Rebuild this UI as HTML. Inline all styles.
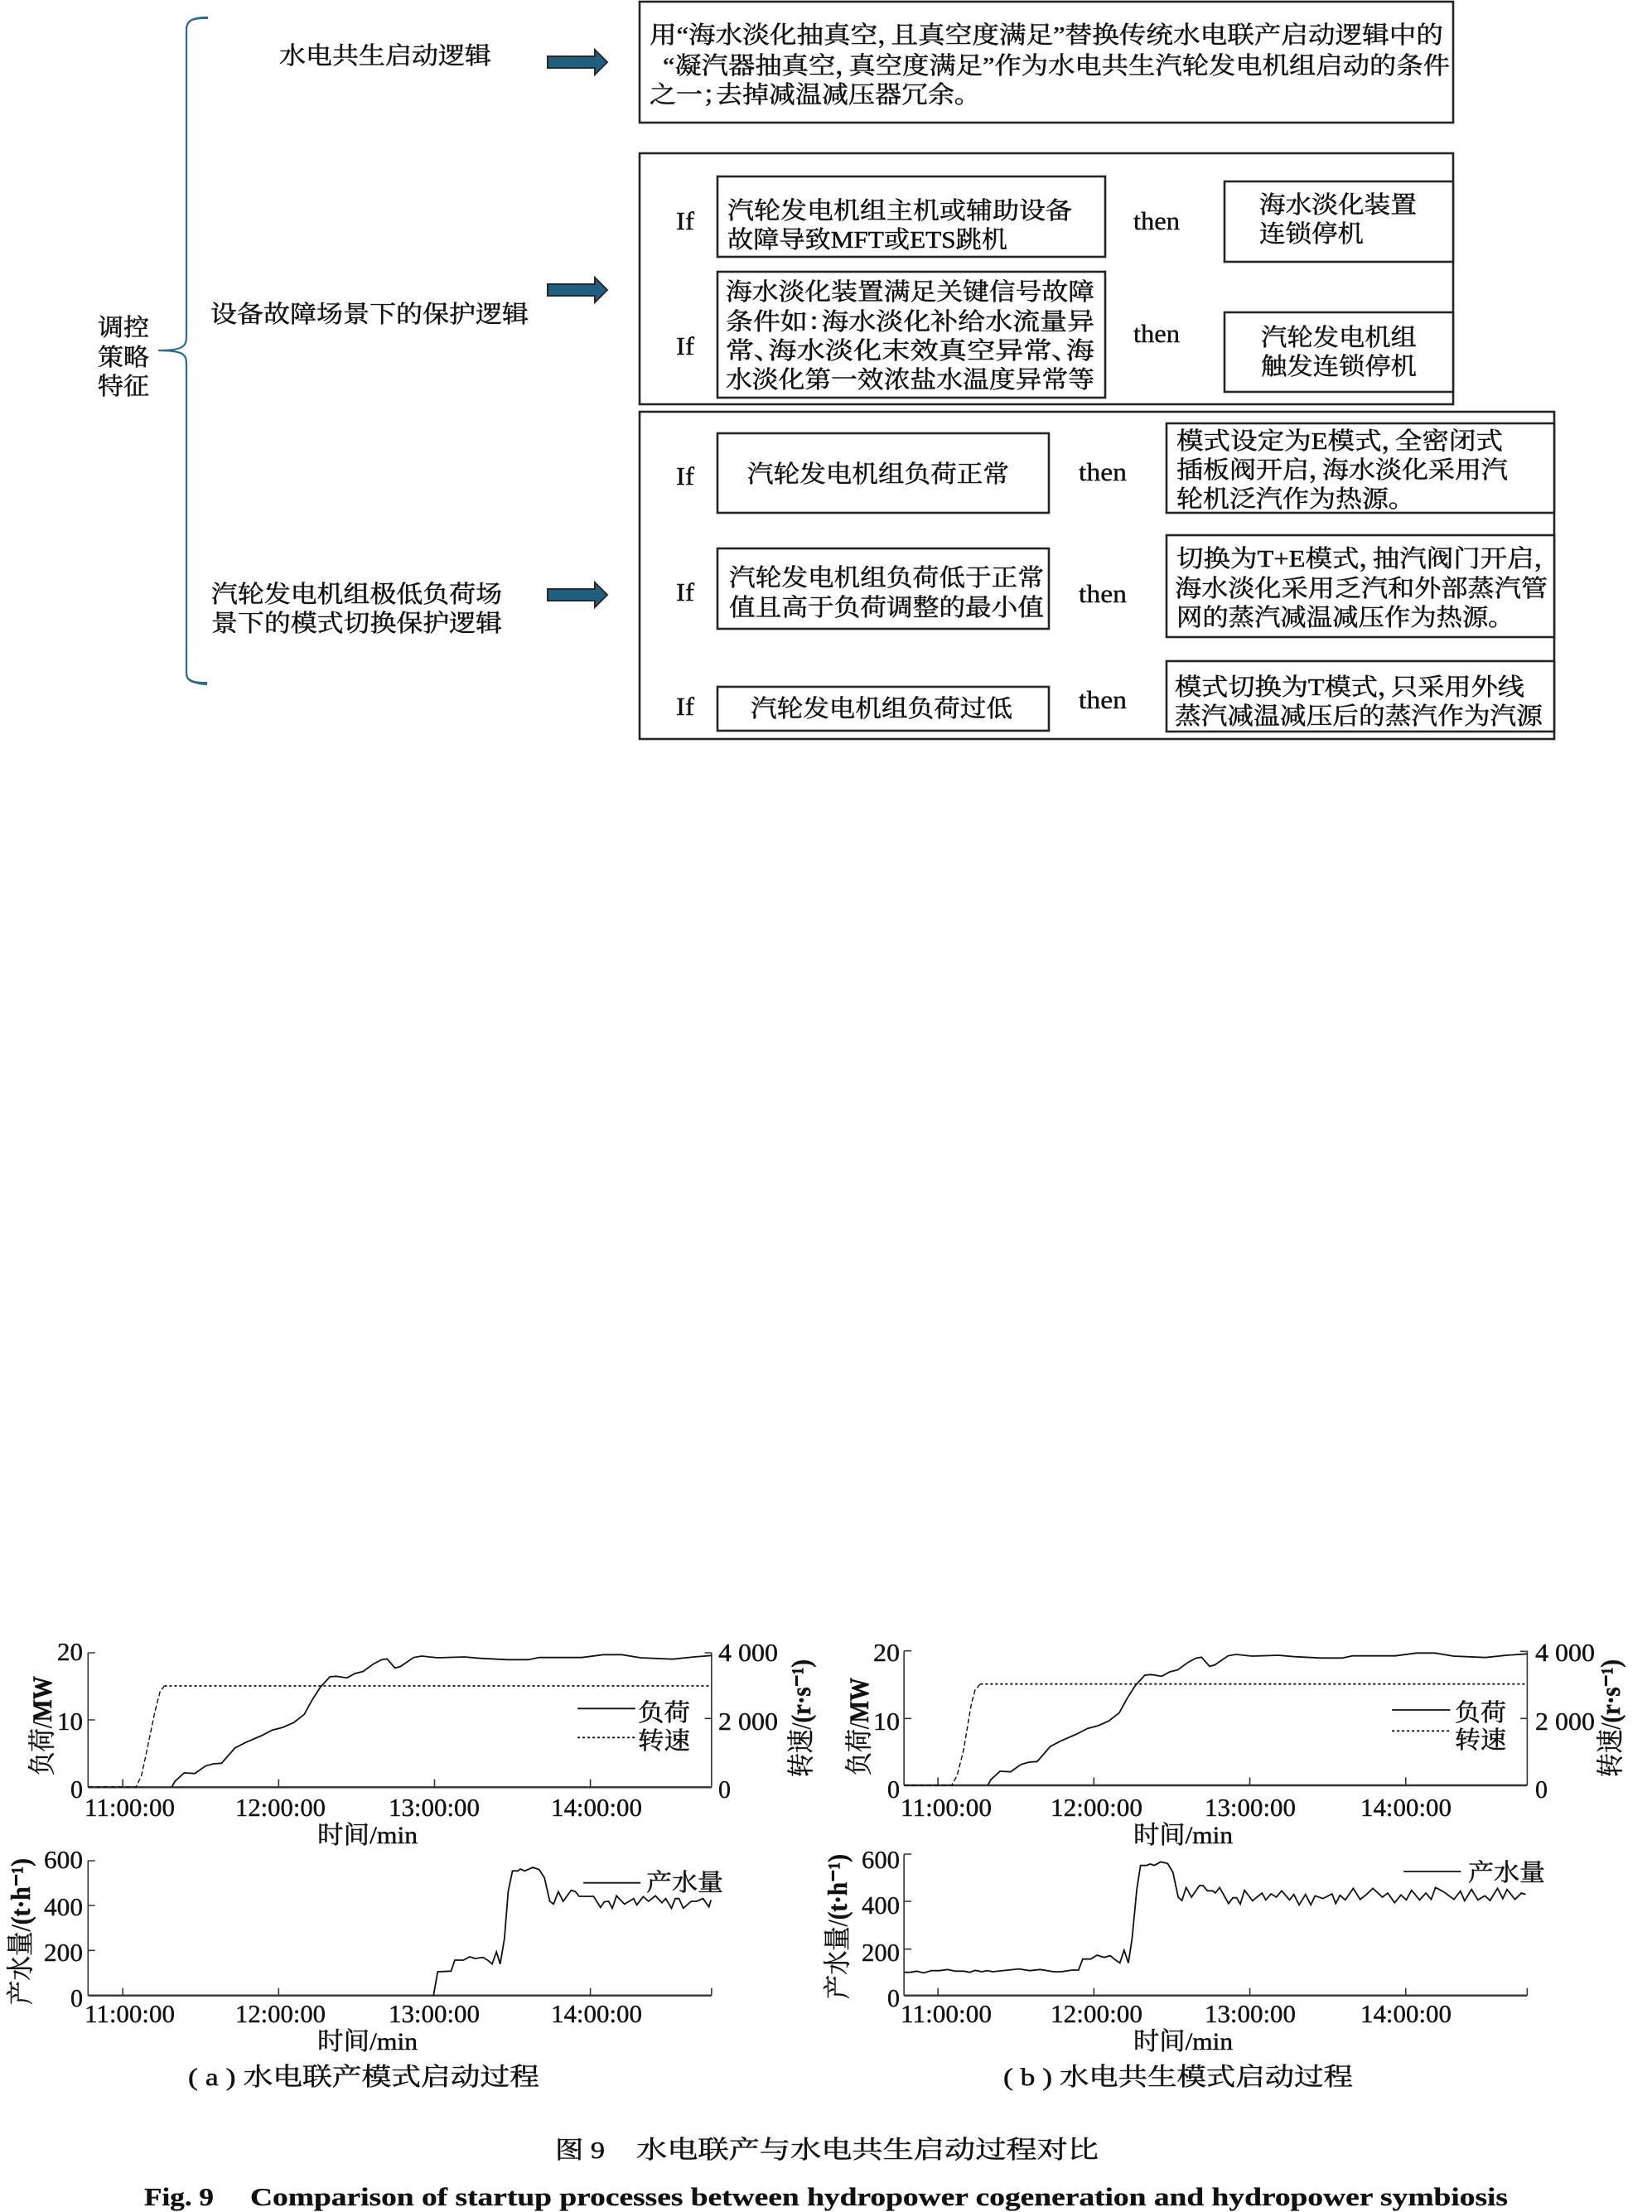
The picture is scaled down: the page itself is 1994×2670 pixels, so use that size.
<!DOCTYPE html>
<html><head><meta charset="utf-8"><title>水电联产与水电共生启动过程对比</title>
<style>
html,body{margin:0;padding:0;background:#fff}
svg{display:block}
text{font-family:"Liberation Serif","Noto Serif CJK SC",serif;fill:#111;stroke:#111;stroke-width:.5;font-size:29px;font-feature-settings:"palt"}
text.n{font-size:31px;stroke-width:.4}
text.m{font-size:30px}
text.y{font-size:33px}
text.c{font-size:31px;stroke-width:.3}
.b{fill:#fff;stroke:#252525;stroke-width:2.6}
.l{fill:none;stroke:#111;stroke-width:1.8;vector-effect:non-scaling-stroke}
.ax{fill:none;stroke:#333;stroke-width:1.6;vector-effect:non-scaling-stroke}
.ax0{fill:none;stroke:#333;stroke-width:2.4;vector-effect:non-scaling-stroke}
.dot{fill:none;stroke:#111;stroke-width:1.8;stroke-dasharray:3 3;vector-effect:non-scaling-stroke}
.dash{fill:none;stroke:#111;stroke-width:1.4;stroke-dasharray:6 3;vector-effect:non-scaling-stroke}
.ar{fill:#1f5f80;stroke:#2a2a2a;stroke-width:2}
</style></head><body>
<svg width="1994" height="2670" viewBox="0 0 1994 2670" xmlns="http://www.w3.org/2000/svg">
<rect width="1994" height="2670" fill="#fff"/>

<!-- brace -->
<path d="M251 21C232 21 225 25 225 36L225 405C225 418 222 423 191 423C222 423 225 428 225 440L225 812C225 822 232 825 250 825" fill="none" stroke="#2c6c8a" stroke-width="2.2"/>
<path d="M251 20C238 20 232 22 228 27C235 23 242 23 251 23Z M191 422.2L207 421.5L207 424.5L191 423.8Z M250 823C238 823 232 822 228 818C232 825 240 827 250 827Z" fill="#2c6c8a"/>

<text x="118" y="405" textLength="62" lengthAdjust="spacingAndGlyphs">调控</text>
<text x="118" y="441" textLength="62" lengthAdjust="spacingAndGlyphs">策略</text>
<text x="118" y="476" textLength="62" lengthAdjust="spacingAndGlyphs">特征</text>

<text x="337" y="77" textLength="256" lengthAdjust="spacingAndGlyphs">水电共生启动逻辑</text>
<text x="254" y="389" textLength="384" lengthAdjust="spacingAndGlyphs">设备故障场景下的保护逻辑</text>
<text x="255" y="727" textLength="351" lengthAdjust="spacingAndGlyphs">汽轮发电机组极低负荷场</text>
<text x="255" y="762" textLength="351" lengthAdjust="spacingAndGlyphs">景下的模式切换保护逻辑</text>

<!-- arrows -->
<path class="ar" d="M661 68H718V60L733 75L718 90V82H661Z"/>
<path class="ar" d="M661 343H718V335L733 350L718 365V357H661Z"/>
<path class="ar" d="M661 711H718V703L733 718L718 733V725H661Z"/>

<!-- box 1 -->
<rect class="b" x="772" y="2" width="982" height="146"/>
<text x="784" y="52" textLength="958" lengthAdjust="spacingAndGlyphs">用“海水淡化抽真空，且真空度满足”替换传统水电联产启动逻辑中的</text>
<text x="800" y="89" textLength="950" lengthAdjust="spacingAndGlyphs">“凝汽器抽真空，真空度满足”作为水电共生汽轮发电机组启动的条件</text>
<text x="784" y="124" textLength="384" lengthAdjust="spacingAndGlyphs">之一；去掉减温减压器冗余。</text>

<!-- box 2 -->
<rect class="b" x="772" y="185" width="982" height="303"/>
<rect class="b" x="866" y="213" width="468" height="97"/>
<rect class="b" x="866" y="328" width="468" height="152"/>
<rect class="b" x="1478" y="219" width="276" height="97"/>
<rect class="b" x="1478" y="377" width="276" height="96"/>
<text class="n" x="816" y="277" textLength="22" lengthAdjust="spacingAndGlyphs">If</text>
<text class="n" x="816" y="428" textLength="22" lengthAdjust="spacingAndGlyphs">If</text>
<text class="n" x="1368" y="277" textLength="56" lengthAdjust="spacingAndGlyphs">then</text>
<text class="n" x="1368" y="413" textLength="56" lengthAdjust="spacingAndGlyphs">then</text>
<text x="878" y="264" textLength="416" lengthAdjust="spacingAndGlyphs">汽轮发电机组主机或辅助设备</text>
<text x="878" y="299" textLength="338" lengthAdjust="spacingAndGlyphs">故障导致MFT或ETS跳机</text>
<text x="876" y="362" textLength="445" lengthAdjust="spacingAndGlyphs">海水淡化装置满足关键信号故障</text>
<text x="876" y="398" textLength="445" lengthAdjust="spacingAndGlyphs">条件如：海水淡化补给水流量异</text>
<text x="876" y="433" textLength="445" lengthAdjust="spacingAndGlyphs">常、海水淡化末效真空异常、海</text>
<text x="876" y="468" textLength="445" lengthAdjust="spacingAndGlyphs">水淡化第一效浓盐水温度异常等</text>
<text x="1520" y="257" textLength="190" lengthAdjust="spacingAndGlyphs">海水淡化装置</text>
<text x="1520" y="292" textLength="126" lengthAdjust="spacingAndGlyphs">连锁停机</text>
<text x="1522" y="417" textLength="188" lengthAdjust="spacingAndGlyphs">汽轮发电机组</text>
<text x="1522" y="452" textLength="188" lengthAdjust="spacingAndGlyphs">触发连锁停机</text>

<!-- box 3 -->
<rect class="b" x="772" y="497" width="1104" height="395"/>
<rect class="b" x="866" y="523" width="400" height="96"/>
<rect class="b" x="866" y="662" width="400" height="97"/>
<rect class="b" x="866" y="829" width="400" height="53"/>
<rect class="b" x="1408" y="511" width="468" height="108"/>
<rect class="b" x="1408" y="646" width="468" height="123"/>
<rect class="b" x="1408" y="798" width="468" height="85"/>
<text class="n" x="816" y="585" textLength="22" lengthAdjust="spacingAndGlyphs">If</text>
<text class="n" x="816" y="725" textLength="22" lengthAdjust="spacingAndGlyphs">If</text>
<text class="n" x="816" y="863" textLength="22" lengthAdjust="spacingAndGlyphs">If</text>
<text class="n" x="1302" y="580" textLength="58" lengthAdjust="spacingAndGlyphs">then</text>
<text class="n" x="1302" y="727" textLength="58" lengthAdjust="spacingAndGlyphs">then</text>
<text class="n" x="1302" y="855" textLength="58" lengthAdjust="spacingAndGlyphs">then</text>
<text x="902" y="582" textLength="316" lengthAdjust="spacingAndGlyphs">汽轮发电机组负荷正常</text>
<text x="880" y="707" textLength="380" lengthAdjust="spacingAndGlyphs">汽轮发电机组负荷低于正常</text>
<text x="880" y="743" textLength="380" lengthAdjust="spacingAndGlyphs">值且高于负荷调整的最小值</text>
<text x="906" y="865" textLength="316" lengthAdjust="spacingAndGlyphs">汽轮发电机组负荷过低</text>
<text x="1420" y="542" textLength="394" lengthAdjust="spacingAndGlyphs">模式设定为E模式，全密闭式</text>
<text x="1420" y="577" textLength="400" lengthAdjust="spacingAndGlyphs">插板阀开启，海水淡化采用汽</text>
<text x="1420" y="612" textLength="272" lengthAdjust="spacingAndGlyphs">轮机泛汽作为热源。</text>
<text x="1420" y="684" textLength="448" lengthAdjust="spacingAndGlyphs">切换为T+E模式，抽汽阀门开启，</text>
<text x="1418" y="720" textLength="450" lengthAdjust="spacingAndGlyphs">海水淡化采用乏汽和外部蒸汽管</text>
<text x="1420" y="755" textLength="392" lengthAdjust="spacingAndGlyphs">网的蒸汽减温减压作为热源。</text>
<text x="1418" y="839" textLength="422" lengthAdjust="spacingAndGlyphs">模式切换为T模式，只采用外线</text>
<text x="1418" y="874" textLength="444" lengthAdjust="spacingAndGlyphs">蒸汽减温减压后的蒸汽作为汽源</text>

<!-- chart a top -->
<g transform="translate(0,1980) scale(.6443,.33333)">
<path class="ax" d="M165 45V532M1333 45V532M165 45H178M165 288H178M1333 45H1320M1333 283H1320M230 532V503M522 532V503M814 532V503M1106 532V503"/>
<path class="ax0" d="M165 532H1333"/>
<path class="dash" d="M165 530H255L265 490L275 400L290 260L300 185L308 165"/>
<path class="dot" d="M308 165H1333"/>
<path class="l" d="M322 530L328 510L345 480L365 482L385 455L400 447L415 445L440 390L460 370L490 345L510 325L530 315L550 298L570 268L585 215L600 170L618 132L630 130L650 136L665 120L680 113L700 85L715 70L725 67L740 100L750 95L775 62L790 57L820 63L870 60L900 65L950 70L990 70L1010 62L1090 62L1130 52L1165 52L1200 63L1260 68L1300 60L1333 55"/>
<path class="l" d="M1082 247H1190"/>
<path class="dot" d="M1082 352H1190"/>
</g>
<text class="n" x="69" y="2004" textLength="31" lengthAdjust="spacingAndGlyphs">20</text>
<text class="n" x="69" y="2088" textLength="31" lengthAdjust="spacingAndGlyphs">10</text>
<text class="n" x="85" y="2170" textLength="15" lengthAdjust="spacingAndGlyphs">0</text>
<text class="n" x="867" y="2005" textLength="72" lengthAdjust="spacingAndGlyphs">4 000</text>
<text class="n" x="867" y="2088" textLength="72" lengthAdjust="spacingAndGlyphs">2 000</text>
<text class="n" x="867" y="2170" textLength="15" lengthAdjust="spacingAndGlyphs">0</text>
<text class="n" x="102" y="2192" textLength="109" lengthAdjust="spacingAndGlyphs">11:00:00</text>
<text class="n" x="284" y="2192" textLength="109" lengthAdjust="spacingAndGlyphs">12:00:00</text>
<text class="n" x="469" y="2192" textLength="110" lengthAdjust="spacingAndGlyphs">13:00:00</text>
<text class="n" x="665" y="2192" textLength="110" lengthAdjust="spacingAndGlyphs">14:00:00</text>
<text class="m" x="383" y="2225" textLength="121" lengthAdjust="spacingAndGlyphs">时间/min</text>
<text x="770" y="2077" textLength="63" lengthAdjust="spacingAndGlyphs">负荷</text>
<text x="770" y="2111" textLength="63" lengthAdjust="spacingAndGlyphs">转速</text>
<text class="y" transform="translate(62,2143) rotate(-90)" textLength="120" lengthAdjust="spacingAndGlyphs">负荷/<tspan font-weight="bold">MW</tspan></text>
<text class="y" transform="translate(978,2145) rotate(-90)" textLength="142" lengthAdjust="spacingAndGlyphs">转速/<tspan font-weight="bold">(r·s⁻¹)</tspan></text>

<!-- chart a bottom -->
<g transform="translate(0,2250) scale(.6443,.33333)">
<path class="ax" d="M165 -12V476M165 -12H178M165 150H178M165 313H178M230 476V449M522 476V449M1106 476V449M1333 476V449"/>
<path class="ax0" d="M165 476H1333"/>
<path class="l" d="M812 476L820 390L845 388L852 348L868 348L880 336L890 342L905 338L915 350L922 362L930 318L937 362L945 270L952 100L960 25L970 25L975 18L983 25L998 12L1010 20L1020 50L1030 135L1037 145L1046 100L1055 135L1070 95L1078 100L1085 117L1112 117L1125 157L1132 137L1140 135L1147 160L1155 115L1170 145L1187 125L1193 148L1205 118L1215 135L1228 115L1240 140L1247 125L1258 160L1265 125L1272 125L1280 160L1295 135L1305 135L1317 125L1328 155L1332 130"/>
<path class="l" d="M1093 68H1200"/>
</g>
<text class="n" x="53" y="2255" textLength="47" lengthAdjust="spacingAndGlyphs">600</text>
<text class="n" x="53" y="2312" textLength="47" lengthAdjust="spacingAndGlyphs">400</text>
<text class="n" x="53" y="2367" textLength="47" lengthAdjust="spacingAndGlyphs">200</text>
<text class="n" x="85" y="2422" textLength="15" lengthAdjust="spacingAndGlyphs">0</text>
<text class="n" x="102" y="2441" textLength="109" lengthAdjust="spacingAndGlyphs">11:00:00</text>
<text class="n" x="284" y="2441" textLength="109" lengthAdjust="spacingAndGlyphs">12:00:00</text>
<text class="n" x="469" y="2441" textLength="110" lengthAdjust="spacingAndGlyphs">13:00:00</text>
<text class="n" x="665" y="2441" textLength="110" lengthAdjust="spacingAndGlyphs">14:00:00</text>
<text class="m" x="383" y="2474" textLength="121" lengthAdjust="spacingAndGlyphs">时间/min</text>
<text x="780" y="2282" textLength="93" lengthAdjust="spacingAndGlyphs">产水量</text>
<text class="y" transform="translate(36,2420) rotate(-90)" textLength="177" lengthAdjust="spacingAndGlyphs">产水量/<tspan font-weight="bold">(t·h⁻¹)</tspan></text>
<text class="m" x="227" y="2517" textLength="424" lengthAdjust="spacingAndGlyphs">( a ) 水电联产模式启动过程</text>

<!-- chart b top -->
<g transform="translate(990,1980) scale(.6402,.33333)">
<path class="ax" d="M158 38V525M1333 38V525M158 38H172M158 283H172M1333 40H1320M1333 283H1320M222 525V496M516 525V496M810 525V496M1104 525V496"/>
<path class="ax0" d="M158 525H1333"/>
<path class="dash" d="M158 524H248L258 490L270 400L285 230L292 180L302 158"/>
<path class="dot" d="M302 158H1333"/>
<path class="l" d="M316 524L322 504L339 474L359 476L379 449L394 441L409 439L434 384L454 364L484 339L504 319L524 309L544 292L564 262L579 209L594 164L612 126L624 124L644 130L659 114L674 107L694 79L709 64L719 61L734 94L744 89L769 56L784 51L814 57L864 54L894 59L944 64L984 64L1004 56L1084 56L1124 46L1159 46L1194 57L1254 62L1294 54L1333 49"/>
<path class="l" d="M1078 252H1188"/>
<path class="dot" d="M1078 328H1188"/>
</g>
<text class="n" x="1054" y="2005" textLength="32" lengthAdjust="spacingAndGlyphs">20</text>
<text class="n" x="1054" y="2088" textLength="32" lengthAdjust="spacingAndGlyphs">10</text>
<text class="n" x="1071" y="2170" textLength="15" lengthAdjust="spacingAndGlyphs">0</text>
<text class="n" x="1853" y="2005" textLength="72" lengthAdjust="spacingAndGlyphs">4 000</text>
<text class="n" x="1853" y="2088" textLength="72" lengthAdjust="spacingAndGlyphs">2 000</text>
<text class="n" x="1853" y="2170" textLength="15" lengthAdjust="spacingAndGlyphs">0</text>
<text class="n" x="1087" y="2192" textLength="110" lengthAdjust="spacingAndGlyphs">11:00:00</text>
<text class="n" x="1268" y="2192" textLength="111" lengthAdjust="spacingAndGlyphs">12:00:00</text>
<text class="n" x="1454" y="2192" textLength="110" lengthAdjust="spacingAndGlyphs">13:00:00</text>
<text class="n" x="1642" y="2192" textLength="110" lengthAdjust="spacingAndGlyphs">14:00:00</text>
<text class="m" x="1368" y="2225" textLength="120" lengthAdjust="spacingAndGlyphs">时间/min</text>
<text x="1756" y="2077" textLength="62" lengthAdjust="spacingAndGlyphs">负荷</text>
<text x="1756" y="2110" textLength="62" lengthAdjust="spacingAndGlyphs">转速</text>
<text class="y" transform="translate(1048,2143) rotate(-90)" textLength="118" lengthAdjust="spacingAndGlyphs">负荷/<tspan font-weight="bold">MW</tspan></text>
<text class="y" transform="translate(1955,2145) rotate(-90)" textLength="142" lengthAdjust="spacingAndGlyphs">转速/<tspan font-weight="bold">(r·s⁻¹)</tspan></text>

<!-- chart b bottom -->
<g transform="translate(990,2250) scale(.6402,.33333)">
<path class="ax" d="M158 -36V476M158 -36H172M158 135H172M158 308H172M222 476V449M516 476V449M810 476V449M1104 476V449M1333 476V449"/>
<path class="ax0" d="M158 476H1333"/>
<path class="l" d="M158 392L170 392L182 388L195 394L210 386L225 386L240 382L255 388L270 388L282 392L292 385L305 390L315 386L325 390L345 386L375 380L395 386L415 382L440 390L455 390L475 384L487 384L495 344L510 344L522 330L535 338L547 332L555 345L565 358L573 312L581 358L588 270L597 90L604 5L615 5L622 0L630 5L642 -8L655 -2L665 30L675 120L682 132L690 85L700 120L715 78L722 78L730 97L740 97L745 105L753 85L770 143L778 122L785 122L792 145L800 95L815 133L833 105L840 130L850 108L860 120L870 97L885 130L893 110L903 148L915 110L925 148L933 115L948 125L965 108L972 143L980 113L990 130L1005 88L1018 128L1030 110L1042 88L1060 120L1070 105L1083 140L1095 112L1105 130L1115 95L1130 130L1142 105L1152 128L1160 85L1175 100L1195 128L1207 98L1215 133L1228 92L1240 130L1253 115L1263 132L1277 88L1287 125L1295 92L1310 128L1322 105L1330 110"/>
<path class="l" d="M1100 27H1208"/>
</g>
<text class="n" x="1040" y="2255" textLength="46" lengthAdjust="spacingAndGlyphs">600</text>
<text class="n" x="1040" y="2310" textLength="46" lengthAdjust="spacingAndGlyphs">400</text>
<text class="n" x="1040" y="2367" textLength="46" lengthAdjust="spacingAndGlyphs">200</text>
<text class="n" x="1071" y="2422" textLength="15" lengthAdjust="spacingAndGlyphs">0</text>
<text class="n" x="1087" y="2441" textLength="110" lengthAdjust="spacingAndGlyphs">11:00:00</text>
<text class="n" x="1268" y="2441" textLength="111" lengthAdjust="spacingAndGlyphs">12:00:00</text>
<text class="n" x="1454" y="2441" textLength="110" lengthAdjust="spacingAndGlyphs">13:00:00</text>
<text class="n" x="1642" y="2441" textLength="110" lengthAdjust="spacingAndGlyphs">14:00:00</text>
<text class="m" x="1368" y="2474" textLength="120" lengthAdjust="spacingAndGlyphs">时间/min</text>
<text x="1772" y="2270" textLength="93" lengthAdjust="spacingAndGlyphs">产水量</text>
<text class="y" transform="translate(1022,2413) rotate(-90)" textLength="175" lengthAdjust="spacingAndGlyphs">产水量/<tspan font-weight="bold">(t·h⁻¹)</tspan></text>
<text class="m" x="1211" y="2517" textLength="422" lengthAdjust="spacingAndGlyphs">( b ) 水电共生模式启动过程</text>

<!-- captions -->
<text x="670" y="2605" textLength="60" lengthAdjust="spacingAndGlyphs">图 9</text>
<text class="m" x="768" y="2605" textLength="558" lengthAdjust="spacingAndGlyphs">水电联产与水电共生启动过程对比</text>
<text class="c" x="174" y="2662" textLength="84" lengthAdjust="spacingAndGlyphs" font-weight="bold">Fig. 9</text>
<text class="c" x="302" y="2662" textLength="1518" lengthAdjust="spacingAndGlyphs" font-weight="bold">Comparison of startup processes between hydropower cogeneration and hydropower symbiosis</text>
</svg>
</body></html>
